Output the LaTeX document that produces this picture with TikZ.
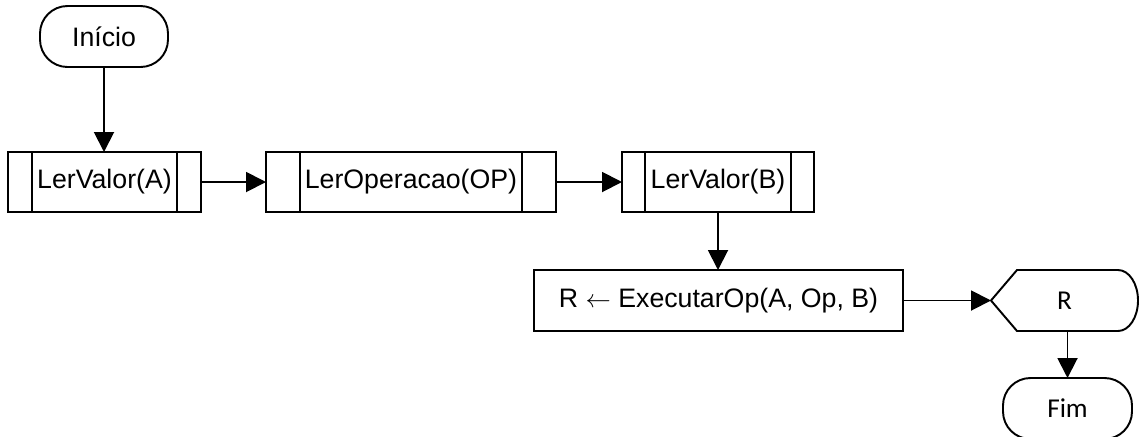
\documentclass[tikz,border=0pt]{standalone}
\usepackage{fontspec}
\setmainfont{Liberation Sans}
\newfontfamily\calibrifont{Carlito}
\usetikzlibrary{arrows.meta}

\tikzset{
  flow/.style={line width=1.1pt, -{Triangle[length=0.4cm,width=0.4cm]}},
  process/.style={draw, line width=1.1pt, minimum height=1.22cm, inner sep=0pt, outer sep=0pt},
  terminal/.style={process, rounded corners=0.55cm, minimum width=2.56cm},
  subproc/.style={process, minimum height=1.2cm}
}

\begin{document}
\begin{tikzpicture}[x=0.2cm, y=0.2cm, font=\fontsize{15.2}{18}\selectfont]
\useasboundingbox (0,0) rectangle (113.9,-43.6);
\node [terminal] (start) at (10.4,-3.65) {Início};
\node [subproc, minimum width=3.86cm] (lerA) at (10.45,-18.2) {LerValor(A)};
\node [subproc, minimum width=5.8cm] (lerOp) at (41.1,-18.2) {LerOperacao(OP)};
\node [subproc, minimum width=3.84cm] (lerB) at (71.8,-18.2) {LerValor(B)};
\node [process, minimum width=7.38cm] (exec) at (71.85,-30.05) {R $\leftarrow$ ExecutarOp(A, Op, B)};
\node [minimum width=2.94cm, minimum height=1.22cm, inner sep=0pt, outer sep=0pt, font=\calibrifont\fontsize{15.5}{18}\selectfont] (outR) at (106.45,-30.05) {R};
\node [terminal, minimum width=2.58cm, font=\calibrifont\fontsize{15.5}{18}\selectfont] (fim) at (106.75,-40.85) {Fim};
% side bars of the subroutine boxes
\foreach \n/\d in {lerA/0.48, lerOp/0.68, lerB/0.46} {
  \draw [line width=1.1pt] ([xshift=\d cm]\n.north west) -- ([xshift=\d cm]\n.south west);
  \draw [line width=1.1pt] ([xshift=-\d cm]\n.north east) -- ([xshift=-\d cm]\n.south east);
}
% display shape
\draw [line width=1.1pt] (outR.west) -- ([xshift=0.52cm]outR.north west) -- ([xshift=-0.4cm]outR.north east)
  arc [start angle=90, end angle=-90, x radius=0.4cm, y radius=0.61cm] -- ([xshift=0.52cm]outR.south west) -- cycle;
% arrows
\draw [flow] (start.south) -- (start.south |- lerA.north);
\draw [flow] (lerA) -- (lerOp);
\draw [flow] (lerOp) -- (lerB);
\draw [flow] (lerB.south) -- (lerB.south |- exec.north);
\draw [flow] (exec) -- (outR.west);
\draw [flow] (fim.north |- outR.south) -- (fim.north);
\end{tikzpicture}
\end{document}
